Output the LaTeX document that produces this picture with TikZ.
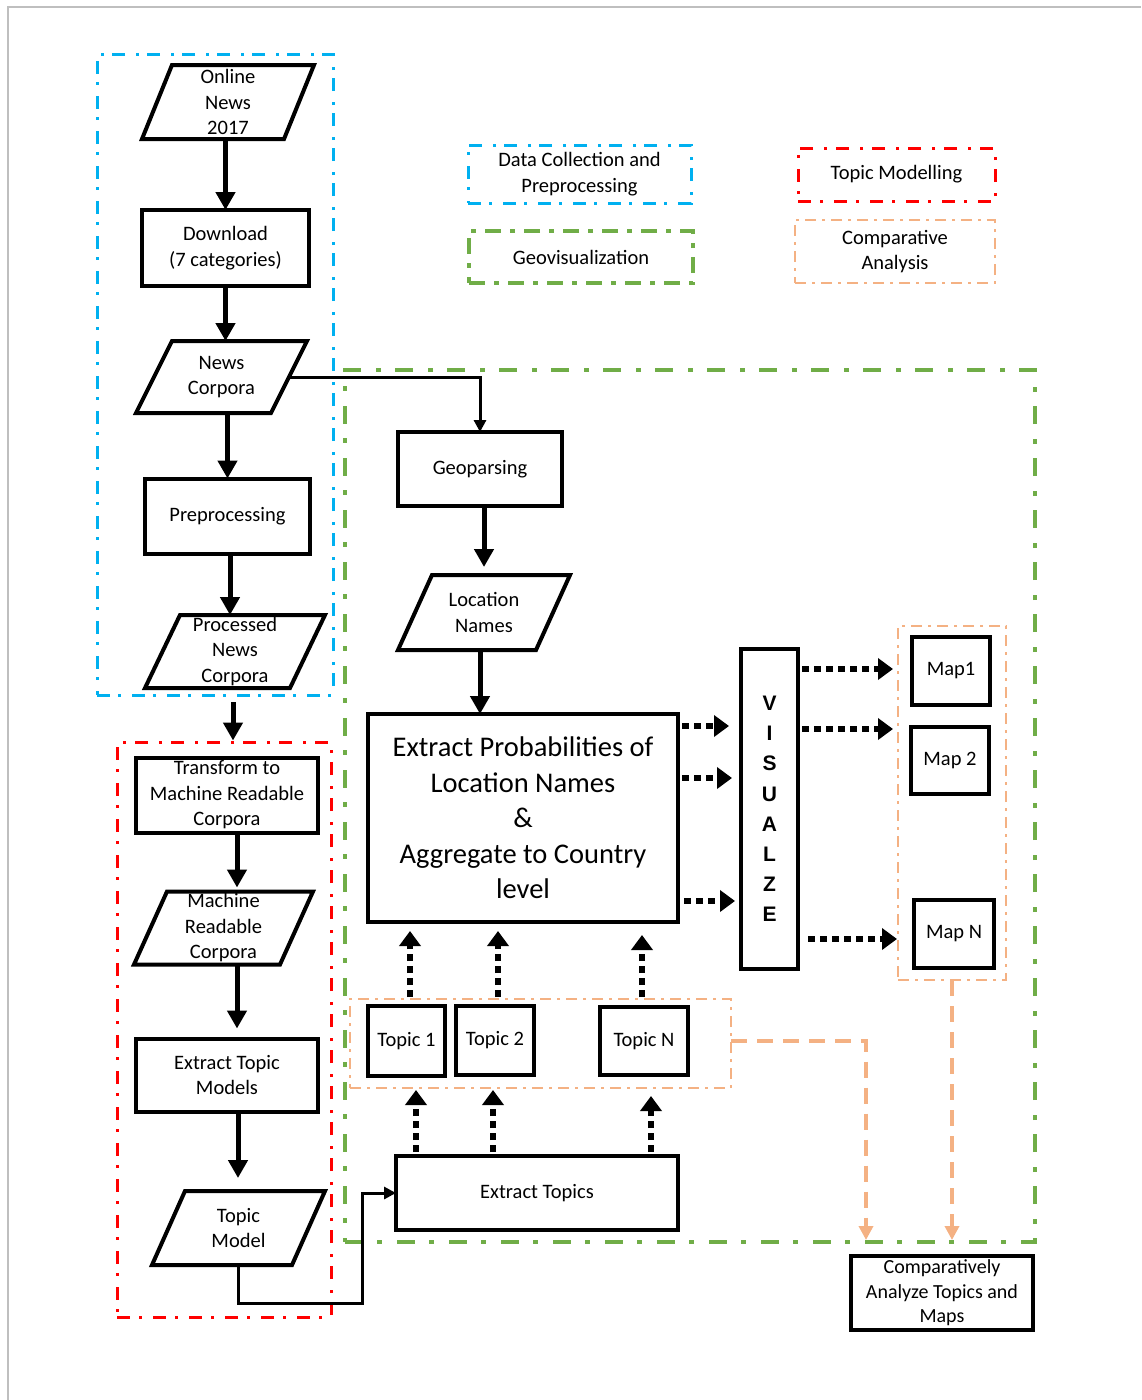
\documentclass[tikz,border=0pt]{standalone}
\usepackage{fontspec}
\setmainfont{Carlito}
\newfontfamily\visfont{Liberation Sans}
\usetikzlibrary{arrows.meta,calc}
\definecolor{cblue}{HTML}{00B0F0}
\definecolor{cgreen}{HTML}{70AD47}
\definecolor{cred}{HTML}{FF0000}
\definecolor{corng}{HTML}{F4B183}
\newcommand\parabox[7]{%
  \node[minimum width=#4pt, minimum height=#5pt] (#1) at (#2,#3) {#7};
  \draw[boxline] ($(#1.north west)+(#6,0)$) -- (#1.north east) -- ($(#1.south east)+(-#6,0)$) -- (#1.south west) -- cycle;
}
\begin{document}
\begin{tikzpicture}[x=1pt,y=-1pt,
  every node/.style={inner sep=0pt, outer sep=0pt, align=center, font=\fontsize{20.5}{25.5}\selectfont},
  boxline/.style={draw, line width=4pt},
  bx/.style={draw, line width=4pt, rectangle},
  grpblue/.style={draw=cblue, line width=3pt, dash pattern=on 13pt off 8pt on 3pt off 11pt},
  grpred/.style={draw=cred, line width=3pt, dash pattern=on 13pt off 9pt on 3pt off 11pt},
  grpgreen/.style={draw=cgreen, line width=4.5pt, dash pattern=on 18pt off 14pt on 5pt off 15pt},
  grpgreenl/.style={draw=cgreen, line width=4pt, dash pattern=on 16pt off 9pt on 5pt off 9pt},
  grporng/.style={draw=corng, line width=2.5pt, dash pattern=on 11pt off 6pt on 3pt off 6pt},
  arr/.style={line width=5pt, -{Triangle[width=19pt,length=18pt]}},
  thinarr/.style={line width=3pt, -{Triangle[width=12pt,length=12pt]}},
  dotarr/.style={line width=6pt, dash pattern=on 7pt off 5pt, -{Triangle[width=21pt,length=15pt]}},
  odash/.style={draw=corng, line width=4pt, dash pattern=on 16pt off 10pt, -{Triangle[width=14pt,length=14pt,fill=corng,color=corng]}}
]
\useasboundingbox (0,0) rectangle (1141,1400);
\draw[black!25, line width=2pt] (8,1400) -- (8,7) -- (1141,7);

% group boxes
\node[grpblue, minimum width=236pt, minimum height=641pt] (blue) at (215,374.5) {};
\node[grpred, minimum width=214pt, minimum height=575pt] (red) at (224,1029.5) {};
\node[grpgreen, minimum width=690pt, minimum height=872pt] (green) at (690,806) {};
\node[grporng, minimum width=108pt, minimum height=354pt] (mgrp) at (952,803) {};
\node[grporng, minimum width=381pt, minimum height=89pt] (tg) at (540.5,1043.5) {};

% legend
\node[grpblue, minimum width=223pt, minimum height=58pt] (lb) at (579.5,174) {Data Collection and\\Preprocessing};
\node[grpgreenl, minimum width=224pt, minimum height=52pt] (lg) at (581,257) {Geovisualization};
\node[grpred, minimum width=197pt, minimum height=53pt] (lr) at (896.5,174.5) {Topic Modelling};
\node[grporng, minimum width=200pt, minimum height=63pt] (lo) at (895,251.5) {Comparative\\Analysis};

% left column
\parabox{on}{228}{102}{172}{74}{30}{Online\\News\\2017}
\node[bx, minimum width=167pt, minimum height=76pt] (dl) at (225.5,248) {Download\\(7 categories)};
\parabox{nc}{221.5}{377}{171}{72}{36}{News\\Corpora}
\node[bx, minimum width=165pt, minimum height=75pt] (pre) at (227.5,516) {Preprocessing};
\parabox{pnc}{235}{651.5}{180}{73}{35}{Processed\\News\\Corpora}
\node[bx, minimum width=182pt, minimum height=75pt] (tr) at (227,795) {Transform to\\Machine Readable\\Corpora};
\parabox{mrc}{223.5}{928}{179}{73}{33}{Machine\\Readable\\Corpora}
\node[bx, minimum width=182pt, minimum height=73pt] (etm) at (227,1075) {Extract Topic\\Models};
\parabox{tm}{238.5}{1228}{173}{74}{33}{Topic\\Model}

% middle
\node[bx, minimum width=164pt, minimum height=74pt] (geo) at (480,469) {Geoparsing};
\parabox{ln}{484}{612.5}{172}{75}{34}{Location\\Names}
\node[bx, minimum width=310pt, minimum height=208pt, font=\fontsize{28.5}{35.5}\selectfont] (ep) at (523,818) {Extract Probabilities of\\Location Names\\\&\\Aggregate to Country\\level};
\node[bx, minimum width=57pt, minimum height=320pt, font=\visfont\bfseries\fontsize{21}{30.2}\selectfont] (vis) at (769.5,809) {V\\I\\S\\U\\A\\L\\Z\\E};
\node[bx, minimum width=78pt, minimum height=68pt] (m1) at (951,671) {Map1};
\node[bx, minimum width=78pt, minimum height=67pt] (m2) at (950,760.5) {Map 2};
\node[bx, minimum width=80pt, minimum height=68pt] (mn) at (954,934) {Map N};
\node[bx, minimum width=77pt, minimum height=70pt] (t1) at (406.5,1041) {Topic 1};
\node[bx, minimum width=78pt, minimum height=69pt] (t2) at (495,1040.5) {Topic 2};
\node[bx, minimum width=88pt, minimum height=68pt] (tn) at (644,1041) {Topic N};
\node[bx, minimum width=282pt, minimum height=74pt] (et) at (537,1193) {Extract Topics};
\node[bx, minimum width=182pt, minimum height=74pt, font=\fontsize{20}{24.5}\selectfont] (cmp) at (942,1293) {Comparatively\\Analyze Topics and\\Maps};

% left column arrows
\draw[arr] (on.south -| dl.north) -- (dl.north);
\draw[arr] (dl.south) -- (dl.south |- nc.north);
\draw[arr] (nc.south -| pre.north) -- (pre.north);
\draw[arr] ($(pre.south)+(2.5,0)$) -- ($(pre.south |- pnc.north)+(2.5,0)$);
\draw[arr] ($(pnc.south)+(-2,14)$) -- ($(pnc.south |- tr.north)+(-2,-17)$);
\draw[arr] ($(tr.south)+(10,0)$) -- ($(tr.south |- mrc.north)+(10,-4)$);
\draw[arr] ($(mrc.south -| etm.north)+(10,0)$) -- ($(etm.north)+(10,-10)$);
\draw[arr] ($(etm.south)+(11,0)$) -- ($(etm.south |- tm.north)+(11,-13)$);
\draw[thinarr] (tm.south) -- ++(0,38) -| ($(et.west)+(-34,0)$) -- (et.west);
\draw[thinarr] ($(nc.east)+(-18,0)$) -| (geo.north);

% middle arrows
\draw[arr] (ln.north |- geo.south) -- ($(ln.north)+(0,-8)$);
\draw[arr] ($(ln.south)+(-4,0)$) -- ($(ep.north)+(-43,0)$);
\draw[dotarr] ($(ep.north east)+(4,12)$) -- ($(vis.west |- ep.north east)+(-12,12)$);
\draw[dotarr] ($(ep.north east)+(4,64)$) -- ($(vis.west |- ep.north east)+(-9,64)$);
\draw[dotarr] ($(ep.north east)+(6,187)$) -- ($(vis.west |- ep.north east)+(-6,187)$);
\draw[dotarr] ($(vis.north east)+(4,20)$) -- ($(mgrp.west |- vis.north east)+(-5,20)$);
\draw[dotarr] ($(vis.north east)+(4,80)$) -- ($(mgrp.west |- vis.north east)+(-5,80)$);
\draw[dotarr] ($(vis.north east)+(10,290)$) -- ($(mgrp.west |- vis.north east)+(-1,290)$);

\draw[dotarr] ($(t1.center |- tg.north)+(3.5,-2)$) -- ($(t1.center |- ep.south)+(3.5,9)$);
\draw[dotarr] ($(t2.center |- tg.north)+(3,-2)$) -- ($(t2.center |- ep.south)+(3,9)$);
\draw[dotarr] ($(tn.center |- tg.north)+(-2,-2)$) -- ($(tn.center |- ep.south)+(-2,13)$);

\draw[dotarr] ($(t1.center |- et.north)+(9.5,-4)$) -- ($(t1.center |- tg.south)+(9.5,2)$);
\draw[dotarr] ($(t2.center |- et.north)+(-2,-4)$) -- ($(t2.center |- tg.south)+(-2,2)$);
\draw[dotarr] ($(tn.center |- et.north)+(7,-4)$) -- ($(tn.center |- tg.south)+(7,8)$);

\draw[odash] ($(tg.east)+(0,-3)$) -| ($(green.south west)+(521,-2)$);
\draw[odash] (mgrp.south) -- ($(mgrp.south |- green.south)+(0,-2)$);
\end{tikzpicture}
\end{document}
